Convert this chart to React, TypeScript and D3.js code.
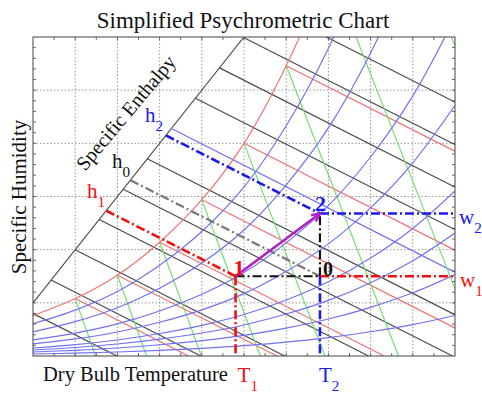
import React from 'react';
import * as d3 from 'd3';

// ---- data (temperature °C, humidity ratio g/kg) ----
const satTemps = [0, 5, 10, 15, 20, 25, 30, 35, 40, 45, 50];
const satHumidity = [3.8, 5.4, 7.6, 10.7, 14.7, 20.0, 27.3, 36.6, 49.0, 65.0, 86.2];
const rhLevels = [0.05, 0.1, 0.15, 0.2, 0.3, 0.4, 0.6, 0.8];
const enthalpyLevels = [10, 20, 30, 40, 50, 60, 70, 80, 90, 100, 110];
const highlightedEnthalpy = 70;
const wetBulbTemps = [5, 10, 15, 20, 25, 30];
const volumeTemps = [5, 10, 15, 20, 25, 30, 35, 40];
const enthalpyAxisT = [0, 25];
const enthalpyAxisW = [5, 30];
const stateT = [24, 34]; // T1, T2
const stateW = [7.5, 13.4]; // w1, w2
const xGridTicks = [5, 10, 15, 20, 25, 30, 35, 40, 45];
const yGridTicks = [5, 10, 15, 20, 25];

const P = 101.325;
const FONT = '"Liberation Serif", "Times New Roman", serif';
const C = {
  black: '#4a4a4a',
  red: '#f07070',
  blue: '#7070f2',
  green: '#70de70',
  redDash: '#ee1111',
  blueDash: '#1a1aee',
  magenta: '#b020c8',
};

const enth = (t: number, w: number) => 1.006 * t + 2.501 * w;

export default function App() {
  const x = d3.scaleLinear().domain([0, 50]).range([33, 455]);
  const y = d3.scaleLinear().domain([0, 30]).range([356, 37]);
  const line = d3.line<number[]>().x((d) => x(d[0])).y((d) => y(d[1]));
  const curve = d3.line<number[]>().x((d) => x(d[0])).y((d) => y(d[1])).curve(d3.curveCatmullRom);

  const satPts = satTemps.map((t, i) => [t, satHumidity[i]]);
  const psat = satHumidity.map((w) => (w * P) / (622 + w));
  const rhCurves = rhLevels.map((phi) =>
    satTemps.map((t, i) => {
      const pv = phi * psat[i];
      return [t, (622 * pv) / (P - pv)];
    })
  );

  // enthalpy axis line w = a + b t
  const axB = (enthalpyAxisW[1] - enthalpyAxisW[0]) / (enthalpyAxisT[1] - enthalpyAxisT[0]);
  const axA = enthalpyAxisW[0] - axB * enthalpyAxisT[0];
  const onAxis = (h: number) => {
    const t = (h - 2.501 * axA) / (1.006 + 2.501 * axB);
    return [t, axA + axB * t];
  };
  const hLine = (h: number) => [onAxis(h), [h / 1.006, 0]];

  const wetBulb = wetBulbTemps.map((t) => {
    const ws = satHumidity[satTemps.indexOf(t)];
    const h = enth(t, ws);
    return [[t, ws], [h / 1.006, 0]];
  });
  const volume = volumeTemps.map((t) => {
    const ws = satHumidity[satTemps.indexOf(t)];
    const tEnd = (t + 273.15) * (1 + 0.0016078 * ws) - 273.15;
    return [[t, ws], [tEnd, 0]];
  });

  const [T1, T2] = stateT;
  const [w1, w2] = stateW;
  const p1 = [T1, w1];
  const p0 = [T2, w1];
  const p2 = [T2, w2];
  const h1 = enth(T1, w1);
  const h0 = enth(T2, w1);
  const h2 = enth(T2, w2);

  // arrow head
  const ax1 = x(p1[0]), ay1 = y(p1[1]), ax2 = x(p2[0]), ay2 = y(p2[1]);
  const ang = Math.atan2(ay2 - ay1, ax2 - ax1);
  const headL = 9;
  const hA = [ax2 - headL * Math.cos(ang - 0.45), ay2 - headL * Math.sin(ang - 0.45)];
  const hB = [ax2 - headL * Math.cos(ang + 0.45), ay2 - headL * Math.sin(ang + 0.45)];

  const xMinor = d3.range(2.5, 50, 2.5);
  const yMinor = d3.range(1, 30, 1);
  const [X0, X1] = x.range();
  const [Y0, Y1] = y.range();

  const dd = '9,3,2,3';
  const thin = 1.15;
  const sub = (main: string, s: string, xx: number, yy: number, color: string, size = 21) => (
    <text x={xx} y={yy} fill={color} fontFamily={FONT} fontSize={size}>
      {main}
      <tspan fontSize={size * 0.72} dy={size * 0.45}>{s}</tspan>
    </text>
  );

  return (
    <svg width={482} height={393} style={{ position: 'absolute', left: 0, top: 0, background: '#fff' }}>
      <defs>
        <clipPath id="plot">
          <rect x={X0} y={Y1} width={X1 - X0} height={Y0 - Y1} />
        </clipPath>
      </defs>
      <rect x={0} y={0} width={482} height={393} fill="#fff" />
      {/* grid */}
      {xGridTicks.map((t) => (
        <line key={'gx' + t} x1={x(t)} x2={x(t)} y1={Y0} y2={Y1} stroke="#8a8a8a" strokeWidth={0.9} strokeDasharray="1.5,2" />
      ))}
      {yGridTicks.map((w) => (
        <line key={'gy' + w} x1={X0} x2={X1} y1={y(w)} y2={y(w)} stroke="#8a8a8a" strokeWidth={0.9} strokeDasharray="1.5,2" />
      ))}
      <g clipPath="url(#plot)" fill="none">
        {/* enthalpy axis */}
        <path d={line([[enthalpyAxisT[0], enthalpyAxisW[0]], [enthalpyAxisT[1], enthalpyAxisW[1]]])!} stroke={C.black} strokeWidth={thin} />
        {enthalpyLevels.map((h) => (
          <path key={'h' + h} d={line(hLine(h))!} stroke={h === highlightedEnthalpy ? C.blue : C.black} strokeWidth={thin} />
        ))}
        {wetBulb.map((seg, i) => (
          <path key={'wb' + i} d={line(seg)!} stroke={C.red} strokeWidth={thin} />
        ))}
        {volume.map((seg, i) => (
          <path key={'v' + i} d={line(seg)!} stroke={C.green} strokeWidth={thin} />
        ))}
        {rhCurves.map((c, i) => (
          <path key={'rh' + i} d={curve(c)!} stroke={C.blue} strokeWidth={thin} />
        ))}
        <path d={curve(satPts)!} stroke={C.red} strokeWidth={thin} />

        {/* process lines */}
        <path d={line([onAxis(h1), p1])!} stroke={C.redDash} strokeWidth={2.6} strokeDasharray={dd} />
        <path d={line([onAxis(h0), p0])!} stroke="#777" strokeWidth={2.2} strokeDasharray={dd} />
        <path d={line([onAxis(h2), p2])!} stroke={C.blueDash} strokeWidth={2.6} strokeDasharray={dd} />
        <path d={line([p1, p0])!} stroke="#111" strokeWidth={2.2} strokeDasharray={dd} />
        <path d={line([p0, p2])!} stroke="#111" strokeWidth={2.2} strokeDasharray={dd} />
        <path d={line([p1, [T1, 0]])!} stroke={C.redDash} strokeWidth={2.6} strokeDasharray={dd} />
        <path d={line([p0, [50, w1]])!} stroke={C.redDash} strokeWidth={2.6} strokeDasharray={dd} />
        <path d={line([p0, [T2, 0]])!} stroke={C.blueDash} strokeWidth={2.6} strokeDasharray={dd} />
        <path d={line([p2, [50, w2]])!} stroke={C.blueDash} strokeWidth={2.6} strokeDasharray={dd} />
        <path d={line([p1, p2])!} stroke={C.magenta} strokeWidth={2.6} />
        <path d={`M${hA[0]},${hA[1]}L${ax2},${ay2}L${hB[0]},${hB[1]}`} stroke={C.magenta} strokeWidth={2.6} />
      </g>
      {/* ticks */}
      {xMinor.map((t) => (
        <g key={'tx' + t} stroke="#444" strokeWidth={0.8}>
          <line x1={x(t)} x2={x(t)} y1={Y0} y2={Y0 - 3} />
          <line x1={x(t)} x2={x(t)} y1={Y1} y2={Y1 + 3} />
        </g>
      ))}
      {yMinor.map((w) => (
        <g key={'ty' + w} stroke="#444" strokeWidth={0.8}>
          <line x1={X0} x2={X0 + 3} y1={y(w)} y2={y(w)} />
          <line x1={X1} x2={X1 - 3} y1={y(w)} y2={y(w)} />
        </g>
      ))}
      <rect x={X0} y={Y1} width={X1 - X0} height={Y0 - Y1} fill="none" stroke="#444" strokeWidth={1} />

      {/* text */}
      <text x={243} y={28} textAnchor="middle" fontFamily={FONT} fontSize={23} fill="#111">Simplified Psychrometric Chart</text>
      <text transform="translate(26,197) rotate(-90)" textAnchor="middle" fontFamily={FONT} fontSize={21} fill="#111">Specific Humidity</text>
      <text x={43} y={381} fontFamily={FONT} fontSize={20.5} fill="#111">Dry Bulb Temperature</text>
      <text transform="translate(131,117) rotate(-50)" textAnchor="middle" fontFamily={FONT} fontSize={20} fill="#111">Specific Enthalpy</text>
      {sub('T', '1', x(T1) + 2, 382, C.redDash)}
      {sub('T', '2', x(T2) - 1, 382, C.blueDash)}
      {sub('w', '2', X1 + 4, 224, C.blueDash)}
      {sub('w', '1', X1 + 5, 287, C.redDash)}
      {sub('h', '2', 145, 122, C.blueDash)}
      {sub('h', '0', 112, 168, '#111')}
      {sub('h', '1', 87, 198, C.redDash)}
      <text x={x(T1) - 2} y={y(w1) - 1} fontFamily={FONT} fontSize={22} fontWeight="bold" fill={C.redDash}>1</text>
      <text x={x(T2) - 5} y={y(w2) - 3} fontFamily={FONT} fontSize={22} fontWeight="bold" fill={C.blueDash}>2</text>
      <text x={x(T2) + 3} y={y(w1)} fontFamily={FONT} fontSize={20} fontWeight="bold" fill="#111">0</text>
    </svg>
  );
}
